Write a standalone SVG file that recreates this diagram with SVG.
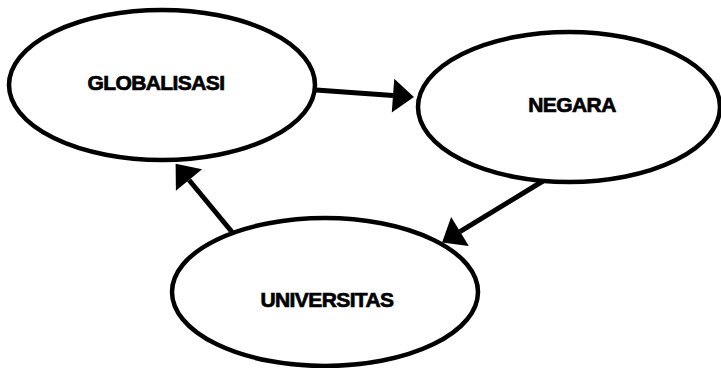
<svg xmlns="http://www.w3.org/2000/svg" width="721" height="368" viewBox="0 0 721 368">
<style>
.node ellipse{fill:#fff;stroke:#000;stroke-width:4.5}
.node text{font-family:"Liberation Sans",Arial,sans-serif;font-weight:bold;font-size:21px;fill:#000;stroke:#000;stroke-width:0.7;text-anchor:middle;letter-spacing:-0.6px}
.edges line{stroke:#000;stroke-width:5;marker-end:url(#ah)}
</style>
<defs>
<marker id="ah" markerUnits="userSpaceOnUse" markerWidth="22" markerHeight="36" refX="0" refY="18" orient="auto" overflow="visible">
<path d="M0,1 L21,18 L0,35 Z" fill="#000"/>
</marker>
</defs>
<rect width="721" height="368" fill="#fff"/>
<g id="globalisasi" class="node">
<ellipse cx="162" cy="85" rx="153" ry="75"/>
<text x="156" y="90">GLOBALISASI</text>
</g>
<g id="negara" class="node">
<ellipse cx="569" cy="107" rx="151" ry="75"/>
<text x="572" y="112">NEGARA</text>
</g>
<g id="universitas" class="node">
<ellipse cx="325" cy="292" rx="153" ry="74"/>
<text x="327" y="307">UNIVERSITAS</text>
</g>
<g id="connectors" class="edges">
<line x1="316" y1="90" x2="393" y2="95.6"/>
<line x1="543" y1="181" x2="460" y2="231.6"/>
<line x1="232" y1="232" x2="189" y2="180"/>
</g>
</svg>
